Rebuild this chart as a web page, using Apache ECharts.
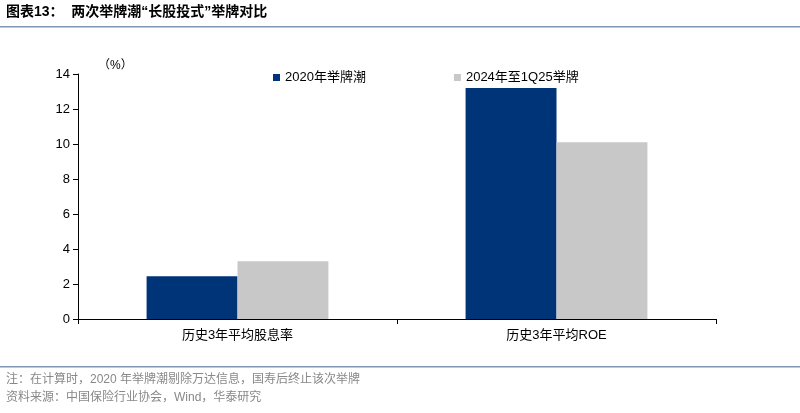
<!DOCTYPE html>
<html><head><meta charset="utf-8">
<script src="https://cdn.jsdelivr.net/npm/echarts@6/dist/echarts.min.js"></script>
<style>body{margin:0}#c{width:800px;height:413px}</style></head>
<body><div id="c"></div>
<script>
const categories = ['历史3年平均股息率', '历史3年平均ROE'];
const series2020 = [2.45, 13.2];
const series2024 = [3.3, 10.1];
const seriesNames = ['2020年举牌潮', '2024年至1Q25举牌'];
const F = '"Liberation Sans","Noto Sans CJK SC",sans-serif';
const chart = echarts.init(document.getElementById('c'));
chart.setOption({
  animation: false,
  textStyle: {fontFamily: F},
  graphic: [
    {type: 'text', left: 6, top: 5, style: {text: '图表13：  两次举牌潮“长股投式”举牌对比', font: 'bold 14px ' + F, fill: '#000'}},
    {type: 'rect', shape: {x: 0, y: 26, width: 800, height: 1.5}, style: {fill: '#7f96b5'}},
    {type: 'rect', shape: {x: 0, y: 366, width: 800, height: 1.5}, style: {fill: '#7f96b5'}},
    {type: 'text', left: 6, top: 374, style: {text: '注：在计算时，2020 年举牌潮剔除万达信息，国寿后终止该次举牌', font: '12px ' + F, fill: '#888'}},
    {type: 'text', left: 6, top: 392, style: {text: '资料来源：中国保险行业协会，Wind，华泰研究', font: '12px ' + F, fill: '#888'}},
    {type: 'text', left: 98, top: 60, style: {text: '（%）', font: '12px ' + F, fill: '#000'}}
  ],
  legend: {
    top: 66, left: 268, itemGap: 88, itemWidth: 7, itemHeight: 7, icon: 'rect',
    textStyle: {fontSize: 13, color: '#000', fontFamily: F},
    data: seriesNames
  },
  grid: {left: 78, right: 84, top: 74, bottom: 94},
  xAxis: {
    type: 'category', data: categories,
    axisLine: {lineStyle: {color: '#000'}},
    axisTick: {show: true, length: 5, lineStyle: {color: '#000'}},
    axisLabel: {color: '#000', fontSize: 13, margin: 10}
  },
  yAxis: {
    type: 'value', min: 0, max: 14, interval: 2,
    axisLine: {show: true, lineStyle: {color: '#000'}},
    axisTick: {show: true, length: 5, lineStyle: {color: '#000'}},
    splitLine: {show: false},
    axisLabel: {color: '#000', fontSize: 13}
  },
  series: [
    {name: seriesNames[0], type: 'bar', data: series2020, barGap: '0%', barCategoryGap: '43%', itemStyle: {color: '#003478'}},
    {name: seriesNames[1], type: 'bar', data: series2024, itemStyle: {color: '#c8c8c8'}}
  ]
});
</script></body></html>
